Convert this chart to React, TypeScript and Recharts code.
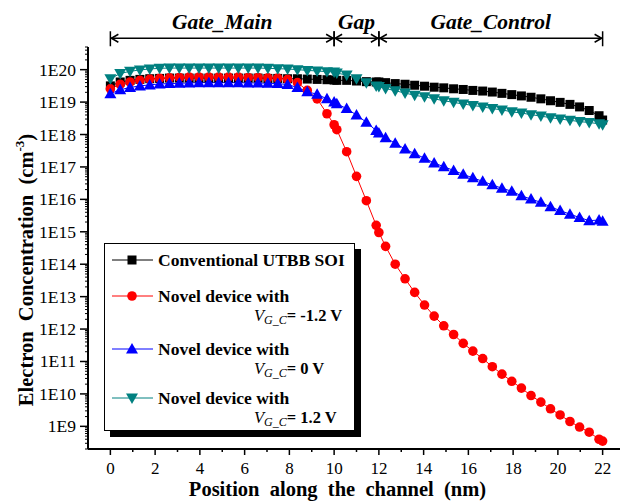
import React from "react";
import { LineChart, Line, XAxis, YAxis, Legend, ReferenceLine, Label } from "recharts";

const SERIF = "Liberation Serif, Times New Roman, DejaVu Serif, serif";

// channel position (nm)
const X_NM = [
  0, 0.44, 0.88, 1.32, 1.76, 2.2, 2.64, 3.08, 3.52, 3.96, 4.4, 4.84, 5.28, 5.72, 6.16, 6.6, 7.04, 7.48,
  7.92, 8.36, 8.8, 9.24, 9.68, 10.0, 10.12, 10.56, 11.0, 11.44, 11.88, 12.0, 12.3, 12.73, 13.17, 13.6,
  14.04, 14.47, 14.9, 15.34, 15.77, 16.2, 16.64, 17.07, 17.5, 17.94, 18.37, 18.8, 19.24, 19.67, 20.1,
  20.54, 20.97, 21.4, 21.84, 22.0,
];

// electron concentration (cm^-3)
const CONV = [
  3.16e19, 4.17e19, 4.68e19, 5.01e19, 5.25e19, 5.37e19, 5.5e19, 5.5e19, 5.5e19, 5.5e19, 5.5e19, 5.5e19,
  5.5e19, 5.5e19, 5.5e19, 5.5e19, 5.37e19, 5.37e19, 5.25e19, 5.25e19, 5.13e19, 5.01e19, 4.9e19, 4.79e19,
  4.68e19, 4.68e19, 4.47e19, 4.27e19, 4.17e19, 4.17e19, 3.98e19, 3.72e19, 3.55e19, 3.31e19, 3.09e19,
  2.88e19, 2.75e19, 2.57e19, 2.45e19, 2.29e19, 2.19e19, 2.04e19, 1.86e19, 1.7e19, 1.55e19, 1.41e19,
  1.26e19, 1.1e19, 9.8e18, 8.5e18, 7.1e18, 5.5e18, 3.8e18, 2.8e18,
];
const NEG = [
  2.57e19, 3.55e19, 4.17e19, 4.68e19, 5.13e19, 5.37e19, 5.62e19, 5.75e19, 5.89e19, 5.89e19, 5.89e19,
  5.89e19, 5.89e19, 5.89e19, 5.75e19, 5.75e19, 5.62e19, 5.5e19, 5.01e19, 3.98e19, 2.29e19, 1.26e19,
  4.37e18, 2.0e18, 1.41e18, 2.95e17, 5.13e16, 9.1e15, 1.58e15, 9.5e14, 3.55e14, 1.0e14, 3.55e13, 1.35e13,
  5.5e12, 2.51e12, 1.26e12, 6.8e11, 3.63e11, 2.09e11, 1.23e11, 6.9e10, 4.07e10, 2.45e10, 1.51e10, 8.9e9,
  5.6e9, 3.47e9, 2.24e9, 1.41e9, 9.5e8, 6.6e8, 4.0e8, 3.5e8,
];
const ZERO = [
  1.82e19, 2.4e19, 2.82e19, 3.16e19, 3.39e19, 3.63e19, 3.72e19, 3.8e19, 3.89e19, 3.98e19, 3.98e19,
  3.98e19, 3.98e19, 3.98e19, 3.89e19, 3.89e19, 3.8e19, 3.72e19, 3.47e19, 2.82e19, 2.09e19, 1.74e19,
  1.26e19, 1.0e19, 8.9e18, 6.3e18, 3.98e18, 2.4e18, 1.32e18, 1.12e18, 7.9e17, 5.4e17, 3.55e17, 2.57e17,
  1.86e17, 1.32e17, 1.02e17, 7.8e16, 5.9e16, 4.6e16, 3.6e16, 2.8e16, 2.2e16, 1.78e16, 1.29e16, 1.02e16,
  8.1e15, 5.9e15, 4.5e15, 3.5e15, 2.75e15, 2.2e15, 2.3e15, 2.1e15,
];
const POS = [
  5.25e19, 7.6e19, 8.9e19, 9.8e19, 1.05e20, 1.1e20, 1.12e20, 1.12e20, 1.12e20, 1.12e20, 1.12e20, 1.12e20,
  1.12e20, 1.12e20, 1.12e20, 1.12e20, 1.1e20, 1.07e20, 1.05e20, 1.0e20, 9.5e19, 9.1e19, 8.7e19, 8.5e19,
  7.9e19, 6.8e19, 5.25e19, 3.98e19, 3.16e19, 3.02e19, 2.63e19, 2.24e19, 1.9e19, 1.62e19, 1.45e19,
  1.26e19, 1.1e19, 9.8e18, 8.7e18, 7.9e18, 7.1e18, 6.3e18, 5.75e18, 5.0e18, 4.6e18, 4.1e18, 3.7e18,
  3.3e18, 3.0e18, 2.75e18, 2.5e18, 2.35e18, 2.14e18, 2.0e18,
];

const X_TICKS = [0, 1, 2, 3, 4, 5, 6, 7, 8, 9, 10, 11, 12, 13, 14, 15, 16, 17, 18, 19, 20, 21, 22];

const REGIONS = ["Gate_Main", "Gap", "Gate_Control"];
const REGION_START = [0, 10, 12];
const REGION_END = [10, 12, 22];
const ARROW_Y = 9.3e20;

const Y_TICKS: number[] = [];
for (let e = 8; e <= 20; e++) {
  for (let m = 1; m <= 9; m++) {
    const v = Number(`${m}e${e}`);
    if (v >= 2e8 && v <= 5e20) Y_TICKS.push(v);
  }
}
const isMajor = (v: number) => /^1e/.test(v.toExponential());

const TEAL = "#008080";
const font = { fontFamily: SERIF };

const square = (c: string) => (p: any) =>
  p.cx == null ? <g key={`s${p.index}`} /> : <rect key={`s${p.index}`} x={p.cx - 4.5} y={p.cy - 4.5} width={9} height={9} fill={c} />;
const circle = (c: string) => (p: any) =>
  p.cx == null ? <g key={`c${p.index}`} /> : <circle key={`c${p.index}`} cx={p.cx} cy={p.cy} r={4.8} fill={c} />;
const triUp = (c: string) => (p: any) =>
  p.cx == null ? <g key={`u${p.index}`} /> : (
    <polygon key={`u${p.index}`} points={`${p.cx},${p.cy - 6} ${p.cx - 6},${p.cy + 4.5} ${p.cx + 6},${p.cy + 4.5}`} fill={c} />
  );
const triDown = (c: string) => (p: any) =>
  p.cx == null ? <g key={`v${p.index}`} /> : (
    <polygon key={`v${p.index}`} points={`${p.cx},${p.cy + 6} ${p.cx - 6},${p.cy - 4.5} ${p.cx + 6},${p.cy - 4.5}`} fill={c} />
  );

const SERIES = [
  { key: "conv", color: "#000000", dot: square, name: "Conventional UTBB SOI", bias: "" },
  { key: "neg", color: "#ff0000", dot: circle, name: "Novel device with", bias: "= -1.2 V" },
  { key: "zero", color: "#0000ff", dot: triUp, name: "Novel device with", bias: "= 0 V" },
  { key: "pos", color: TEAL, dot: triDown, name: "Novel device with", bias: "= 1.2 V" },
];

const BottomTick = (p: any) => {
  const v = p.payload.value;
  const major = v % 2 === 0;
  return (
    <g>
      <line x1={p.x} x2={p.x} y1={p.y} y2={p.y + (major ? 6 : 3)} stroke="#000" strokeWidth={1.5} />
      {major && (
        <text x={p.x} y={p.y + 25} textAnchor="middle" fontSize={17} style={font} fill="#000">
          {v}
        </text>
      )}
    </g>
  );
};
const TopTick = (p: any) => {
  const major = p.payload.value % 2 === 0;
  return <line x1={p.x} x2={p.x} y1={p.y} y2={p.y + (major ? 6 : 3)} stroke="#000" strokeWidth={1.5} />;
};
const LeftTick = (p: any) => {
  const v = p.payload.value;
  const major = isMajor(v);
  return (
    <g>
      <line x1={p.x - (major ? 8 : 3)} x2={p.x} y1={p.y} y2={p.y} stroke="#000" strokeWidth={major ? 1.5 : 1} />
      {major && (
        <text x={p.x - 12} y={p.y + 6} textAnchor="end" fontSize={17.5} style={font} fill="#000">
          {`1E${Math.round(Math.log10(v))}`}
        </text>
      )}
    </g>
  );
};
const RightTick = (p: any) => {
  const major = isMajor(p.payload.value);
  return <line x1={p.x - (major ? 6 : 3)} x2={p.x} y1={p.y} y2={p.y} stroke="#000" strokeWidth={major ? 1.5 : 1} />;
};

const Span = (p: any) => {
  const { x1, x2, y1, text } = p;
  const y = y1;
  return (
    <g>
      <line x1={x1} x2={x2} y1={y} y2={y} stroke="#000" strokeWidth={1.5} />
      <polyline points={`${x1 + 8},${y - 4} ${x1 + 1},${y} ${x1 + 8},${y + 4}`} fill="none" stroke="#000" strokeWidth={1.5} />
      <polyline points={`${x2 - 8},${y - 4} ${x2 - 1},${y} ${x2 - 8},${y + 4}`} fill="none" stroke="#000" strokeWidth={1.5} />
      <line x1={x1} x2={x1} y1={y - 7} y2={y + 8} stroke="#000" strokeWidth={1.5} />
      <line x1={x2} x2={x2} y1={y - 7} y2={y + 8} stroke="#000" strokeWidth={1.5} />
      <text x={(x1 + x2) / 2} y={y - 9} textAnchor="middle" fontSize={21.5} fontWeight="bold" fontStyle="italic" style={font} fill="#000">
        {text}
      </text>
    </g>
  );
};

const VGC = ({ x, y, bias }: { x: number; y: number; bias: string }) => (
  <text x={x} y={y} fontSize={16.5} fontWeight="bold" style={font} fill="#000">
    <tspan fontStyle="italic" fontWeight="normal">V</tspan>
    <tspan fontStyle="italic" fontWeight="normal" fontSize={12} dy={3}>G_C</tspan>
    <tspan dy={-3}>{bias}</tspan>
  </text>
);

const LEG_ROWS = [16, 52, 105, 154];

const LegendBox = () => (
  <div style={{ width: 251, height: 188, border: "1px solid #000", boxShadow: "6px 6px 0 #000", background: "#fff", boxSizing: "border-box" }}>
    <svg width={249} height={186} style={{ display: "block" }}>
      {SERIES.map((s, i) => {
        const cy = LEG_ROWS[i];
        const dot = s.dot(s.color)({ cx: 27, cy, index: 900 + i });
        return (
          <g key={s.key}>
            <line x1={7} x2={48} y1={cy} y2={cy} stroke={s.color} strokeWidth={1} />
            {dot}
            <text x={53} y={cy + 6} fontSize={17.5} fontWeight="bold" style={font} fill="#000">
              {s.name}
            </text>
            {s.bias && <VGC x={149} y={cy + 25} bias={s.bias} />}
          </g>
        );
      })}
    </svg>
  </div>
);

export default function App() {
  const data = X_NM.map((x, i) => ({ x, conv: CONV[i], neg: NEG[i], zero: ZERO[i], pos: POS[i] }));
  return (
    <div style={{ width: 620, height: 493, fontFamily: SERIF }}>
      <LineChart width={620} height={493} data={data} margin={{ top: 39, right: 3, bottom: 0, left: 0 }}>
        <XAxis
          dataKey="x"
          type="number"
          domain={[-1, 23]}
          ticks={X_TICKS}
          interval={0}
          allowDataOverflow
          height={52}
          tickSize={0}
          tickMargin={0}
          tickLine={false}
          axisLine={{ stroke: "#000", strokeWidth: 2 }}
          tick={<BottomTick />}
        >
          <Label
            content={(p: any) => {
              const vb = p.viewBox;
              return (
                <text x={vb.x + vb.width / 2 - 19} y={vb.y + 47} textAnchor="middle" fontSize={20.5} fontWeight="bold" fill="#000" style={{ ...font, whiteSpace: "pre" }}>
                  {"Position  along  the  channel  (nm)"}
                </text>
              );
            }}
          />
        </XAxis>
        <XAxis
          xAxisId="top"
          orientation="top"
          dataKey="x"
          type="number"
          domain={[-1, 23]}
          ticks={X_TICKS}
          interval={0}
          allowDataOverflow
          height={0}
          tickSize={0}
          tickMargin={0}
          tickLine={false}
          axisLine={{ stroke: "#000", strokeWidth: 2 }}
          tick={<TopTick />}
        />
        <YAxis
          type="number"
          scale="log"
          domain={[2e8, 5e20]}
          allowDataOverflow
          ticks={Y_TICKS}
          interval={0}
          width={80}
          tickSize={0}
          tickMargin={0}
          tickLine={false}
          axisLine={{ stroke: "#000", strokeWidth: 2 }}
          tick={<LeftTick />}
        >
          <Label
            content={(p: any) => {
              const vb = p.viewBox;
              const cx = vb.x + 18;
              const cy = vb.y + vb.height / 2 + 22;
              return (
                <text transform={`translate(${cx},${cy}) rotate(-90)`} textAnchor="middle" y={7} fontSize={20.5} fontWeight="bold" fill="#000" style={{ ...font, whiteSpace: "pre" }}>
                  {"Electron  Concentration  (cm"}
                  <tspan fontSize={13} dy={-9}>-3</tspan>
                  <tspan dy={9}>)</tspan>
                </text>
              );
            }}
          />
        </YAxis>
        <YAxis
          yAxisId="right"
          orientation="right"
          type="number"
          scale="log"
          domain={[2e8, 5e20]}
          allowDataOverflow
          ticks={Y_TICKS}
          interval={0}
          width={0}
          tickSize={0}
          tickMargin={0}
          tickLine={false}
          axisLine={{ stroke: "#000", strokeWidth: 2 }}
          tick={<RightTick />}
        />
        {REGIONS.map((r, i) => (
          <ReferenceLine
            key={r}
            segment={[
              { x: REGION_START[i], y: ARROW_Y },
              { x: REGION_END[i], y: ARROW_Y },
            ]}
            ifOverflow="visible"
            shape={(p: any) => <Span {...p} text={r} />}
          />
        ))}
        {SERIES.map((s) => (
          <Line
            key={s.key}
            dataKey={s.key}
            type="linear"
            stroke={s.color}
            strokeWidth={1}
            dot={s.dot(s.color)}
            activeDot={false}
            isAnimationActive={false}
          />
        ))}
        <Legend
          layout="vertical"
          align="center"
          verticalAlign="middle"
          wrapperStyle={{ left: 96, top: 235, width: 251, height: 188 }}
          content={() => <LegendBox />}
        />
      </LineChart>
    </div>
  );
}
